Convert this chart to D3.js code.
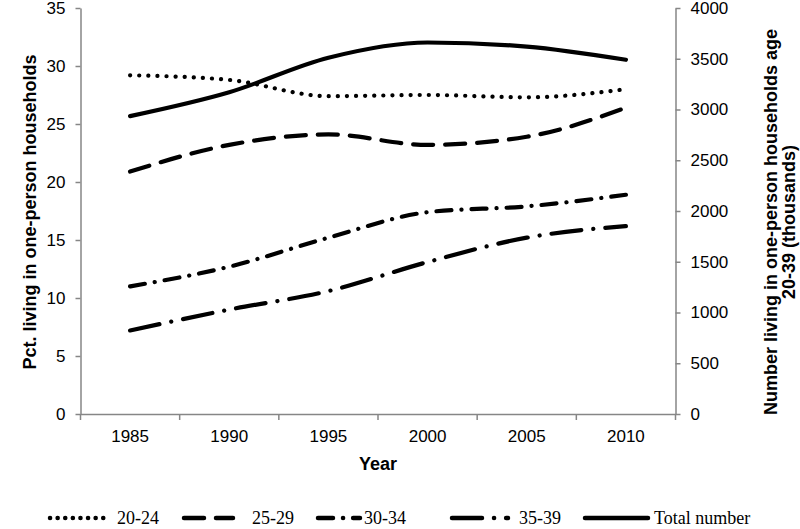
<!DOCTYPE html>
<html><head><meta charset="utf-8">
<script src="https://cdn.jsdelivr.net/npm/d3@7/dist/d3.min.js"></script>
<style>body{margin:0;background:#fff}svg{display:block}</style>
</head><body>
<svg id="c" width="800" height="529"></svg>
<script>
const years = ["1985","1990","1995","2000","2005","2010"];
const s2024 = [29.2, 28.8, 27.4, 27.5, 27.3, 28.0];
const s2529 = [20.9, 23.2, 24.1, 23.2, 23.9, 26.4];
const s3034 = [11.0, 12.7, 15.2, 17.4, 17.9, 18.9];
const s3539 = [7.2, 9.0, 10.6, 13.1, 15.2, 16.2];
const total = [2935, 3170, 3510, 3660, 3620, 3490];
const leftTicks = [0,5,10,15,20,25,30,35];
const rightTicks = [0,500,1000,1500,2000,2500,3000,3500,4000];

const svg = d3.select("#c");
const L = 80.5, R = 675.5, T = 8, B = 414;
const x = d3.scaleBand().domain(years).range([L, R]);
const yL = d3.scaleLinear().domain([0,35]).range([B, T]);
const yR = d3.scaleLinear().domain([0,4000]).range([B, T]);
const axisColor = "#868686";
const font = "Liberation Sans, Arial, sans-serif";

const gl = svg.append("g").attr("transform", `translate(${L},0)`)
  .call(d3.axisLeft(yL).tickValues(leftTicks).tickSize(5).tickPadding(10).tickSizeOuter(0));
const gr = svg.append("g").attr("transform", `translate(${R},0)`)
  .call(d3.axisRight(yR).tickValues(rightTicks).tickFormat(d3.format("d")).tickSize(5).tickPadding(10).tickSizeOuter(0));
const gb = svg.append("g").attr("transform", `translate(0,${B})`)
  .call(d3.axisBottom(x).tickSize(0).tickPadding(16));
gb.selectAll("line.bt").data(d3.range(years.length+1)).join("line")
  .attr("class","bt")
  .attr("x1", i => L + i*x.step()).attr("x2", i => L + i*x.step())
  .attr("y1", 0).attr("y2", 6).attr("stroke", axisColor).attr("stroke-width",1.5);

[gl,gr,gb].forEach(g=>{
  g.select(".domain").attr("stroke", axisColor).attr("stroke-width",1.5);
  g.selectAll(".tick line").attr("stroke", axisColor).attr("stroke-width",1.5);
  g.selectAll("text").attr("font-family", font).attr("font-size", 17).attr("fill","#000");
});

const curve = d3.curveMonotoneX;
const series = [
  {v:s2024, y:yL, dash:"0.1 9"},
  {v:s2529, y:yL, dash:"20 12"},
  {v:s3034, y:yL, dash:"15 10 0.1 10"},
  {v:s3539, y:yL, dash:"30 12 0.1 12"},
  {v:total, y:yR, dash:null}
];
series.forEach(s=>{
  const line = d3.line().x((d,i)=>x(years[i])+x.bandwidth()/2).y(d=>s.y(d)).curve(curve);
  svg.append("path").datum(s.v).attr("d", line)
    .attr("fill","none").attr("stroke","#000").attr("stroke-width",4.2)
    .attr("stroke-linecap","round")
    .attr("stroke-dasharray", s.dash);
});

svg.append("text").attr("transform","translate(36,212) rotate(-90)")
  .attr("text-anchor","middle").attr("font-family",font).attr("font-weight","bold")
  .attr("font-size",18).text("Pct. living in one-person households");
svg.append("text").attr("transform","translate(777,222) rotate(-90)")
  .attr("text-anchor","middle").attr("font-family",font).attr("font-weight","bold")
  .attr("font-size",18).text("Number living in one-person households age");
svg.append("text").attr("transform","translate(795,222) rotate(-90)")
  .attr("text-anchor","middle").attr("font-family",font).attr("font-weight","bold")
  .attr("font-size",18).text("20-39 (thousands)");
svg.append("text").attr("x",378).attr("y",470)
  .attr("text-anchor","middle").attr("font-family",font).attr("font-weight","bold")
  .attr("font-size",18).text("Year");

const legendNames = ["20-24","25-29","30-34","35-39","Total number"];
const legendPos = [[50,110,117],[184,233,252],[318,360,364],[452,508,519],[585,648,654]];
const ly = 518;
legendNames.forEach((n,i)=>{
  const p = legendPos[i];
  svg.append("line").attr("x1",p[0]).attr("x2",p[1]).attr("y1",ly).attr("y2",ly)
    .attr("stroke","#000").attr("stroke-width",4.5).attr("stroke-linecap","round")
    .attr("stroke-dasharray", i===0 ? "0.1 7.5" : series[i].dash);
  svg.append("text").attr("x",p[2]).attr("y",ly+6).attr("font-family","Liberation Serif, Times New Roman, serif")
    .attr("font-size",18).text(n);
});
</script>
</body></html>
